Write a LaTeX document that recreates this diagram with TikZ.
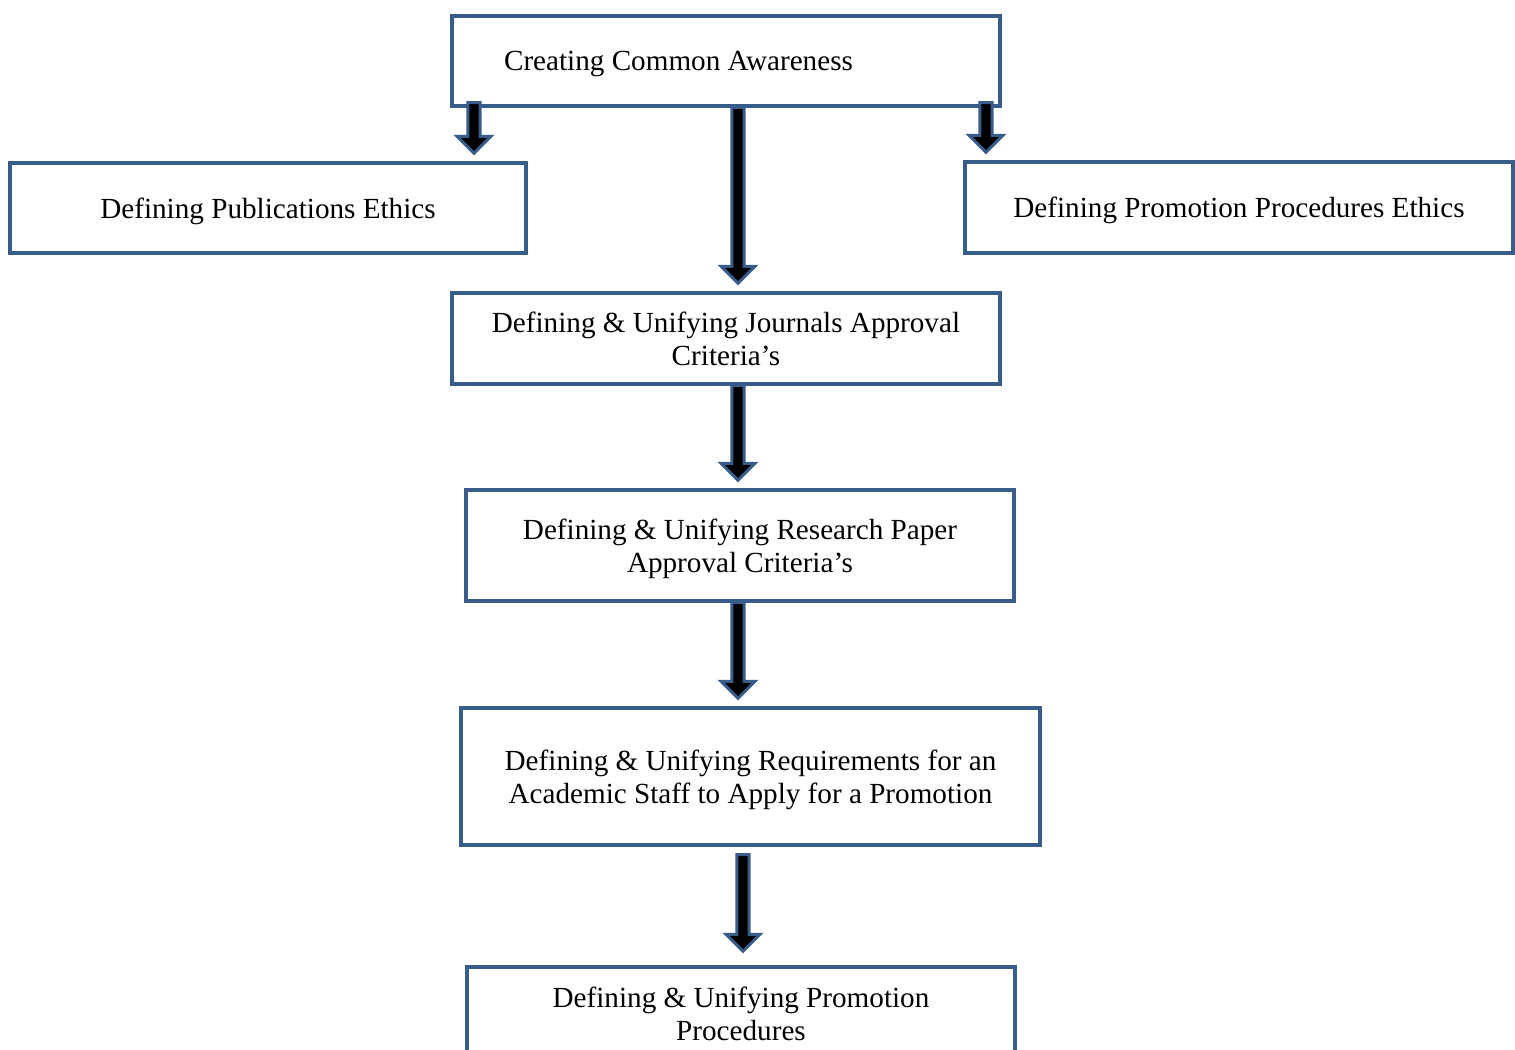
\documentclass[tikz,border=0pt]{standalone}
\usepackage{fontspec}
\setmainfont{Liberation Serif}
\usepackage{tikz}
\usetikzlibrary{calc}
\definecolor{box-blue}{RGB}{56,93,138}

\begin{document}
\begin{tikzpicture}[
    x=0.02cm, y=-0.02cm,
    box/.style={rectangle, draw=box-blue, line width=0.07cm,
                minimum width=10.96cm, minimum height=1.8cm,
                align=center, inner sep=0pt, text depth=0pt,
                font=\fontsize{16.6}{18.8}\selectfont},
    arr/.style={draw=box-blue, fill=black, line width=1.7pt, line join=miter,
                to path={let \p1=(\tikztostart), \p2=(\tikztotarget) in
                  (\x1-3.5pt,\y1) -- (\x1-3.5pt,\y2+14.2pt)
                  -- (\x1-9.7pt,\y2+14.2pt) -- (\x1,\y2+4.5pt)
                  -- (\x1+9.7pt,\y2+14.2pt) -- (\x1+3.5pt,\y2+14.2pt)
                  -- (\x1+3.5pt,\y1) -- cycle}},
]
\useasboundingbox (0,0) rectangle (1515,1050);

\node[box] (aware) at (726, 61)
    {\makebox[8.88cm][l]{Creating Common Awareness}};

\node[box, minimum width=10.32cm] (pub) at (268, 208)
    {Defining Publications Ethics};

\node[box, minimum height=1.82cm] (prometh) at (1239, 207.5)
    {Defining Promotion Procedures Ethics};

\node[box, minimum height=1.82cm] (journ) at (726, 338.5)
    {Defining \& Unifying Journals Approval\\Criteria’s};

\node[box, minimum height=2.22cm] (paper) at (740, 545.5)
    {Defining \& Unifying Research Paper\\Approval Criteria’s};

\node[box, minimum width=11.58cm, minimum height=2.74cm] (req) at (750.5, 776.5)
    {Defining \& Unifying Requirements for an\\Academic Staff to Apply for a Promotion};

\node[box, minimum height=1.88cm] (proc) at (741, 1014)
    {Defining \& Unifying Promotion\\Procedures};

% arrow columns
\coordinate (colL) at (474, 0);
\coordinate (colM) at (738, 0);
\coordinate (colR) at (986, 0);
\coordinate (colN) at (743, 0);

\draw[arr] ($(aware.south -| colL)+(0,-5)$) to (pub.north -| colL);
\draw[arr] (aware.south -| colM) to (journ.north -| colM);
\draw[arr] ($(aware.south -| colR)+(0,-5)$) to (prometh.north -| colR);
\draw[arr] (journ.south -| colM) to (paper.north -| colM);
\draw[arr] (paper.south -| colM) to (req.north -| colM);
\draw[arr] ($(req.south -| colN)+(0,8)$) to ($(proc.north -| colN)+(0,-6)$);

\end{tikzpicture}
\end{document}
